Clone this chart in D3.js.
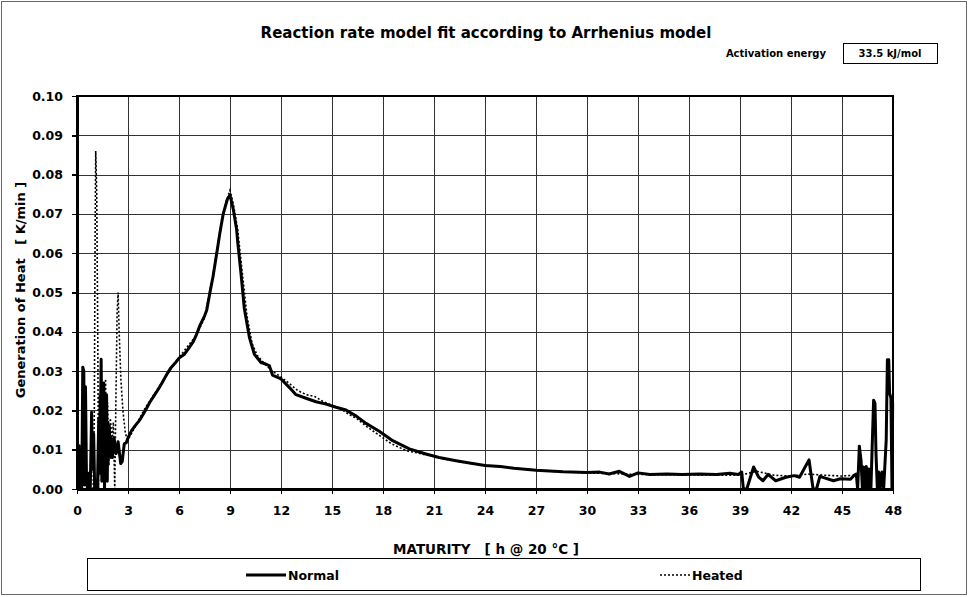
<!DOCTYPE html>
<html>
<head>
<meta charset="UTF-8">
<title>Reaction rate model fit according to Arrhenius model</title>
<script src="https://d3js.org/d3.v7.min.js"></script>
<style>
    body { margin: 0; background: #fff; }
    text { font-family: "DejaVu Sans", sans-serif; font-weight: bold; fill: #000; }
    .grid line { stroke: #333; stroke-width: 1; shape-rendering: crispEdges; }
    .grid path { display: none; }
    .axis path, .axis line { stroke: #000; shape-rendering: crispEdges; }
    .axis path { stroke-width: 2; }
    .axis line { stroke-width: 1.5; }
</style>
</head>
<body>
<script>
    // tick values
    var xTicks = [0, 3, 6, 9, 12, 15, 18, 21, 24, 27, 30, 33, 36, 39, 42, 45, 48];
    var yTicks = [0, 0.01, 0.02, 0.03, 0.04, 0.05, 0.06, 0.07, 0.08, 0.09, 0.10];
    var seriesNames = ["Normal", "Heated"];
    var activationEnergy = "33.5 kJ/mol";

    // [maturity h, heat K/min]
    var normal = [
        [0, 0.011], [0.12, 0.011], [0.17, 0], [0.28, 0], [0.34, 0.031], [0.4, 0.030], [0.44, 0.001],
        [0.5, 0.026], [0.56, 0.002], [0.62, 0], [0.7, 0.004], [0.78, 0], [0.86, 0.0195], [0.92, 0.005],
        [0.98, 0.014], [1.04, 0], [1.12, 0.002], [1.2, 0], [1.28, 0.018], [1.34, 0.004], [1.42, 0.033],
        [1.46, 0.002], [1.5, 0.026], [1.54, 0.008], [1.58, 0.027], [1.62, 0], [1.66, 0.021], [1.7, 0.01],
        [1.74, 0.024], [1.78, 0.002], [1.82, 0.017], [1.86, 0.009], [1.9, 0.016], [1.95, 0.008],
        [2.0, 0.013], [2.08, 0.008], [2.18, 0.013], [2.3, 0.009], [2.42, 0.012], [2.57, 0.0065],
        [2.66, 0.007], [2.78, 0.0115], [2.9, 0.0118], [3.0, 0.013], [3.2, 0.0148], [3.4, 0.016],
        [3.7, 0.0176], [4.0, 0.0198], [4.3, 0.0222], [4.5, 0.0235], [4.8, 0.0255], [5.0, 0.027],
        [5.3, 0.0293], [5.5, 0.0307], [5.8, 0.0322], [6.0, 0.0333], [6.3, 0.0342], [6.6, 0.036],
        [6.84, 0.0375], [7.0, 0.039], [7.24, 0.0417], [7.5, 0.044], [7.63, 0.0455], [7.82, 0.05],
        [8.0, 0.054], [8.22, 0.060], [8.4, 0.065], [8.6, 0.070], [8.85, 0.0738], [9.0, 0.0748],
        [9.2, 0.071], [9.39, 0.066], [9.45, 0.063], [9.65, 0.0547], [9.84, 0.046], [10.14, 0.0386],
        [10.43, 0.0343], [10.82, 0.0322], [11.1, 0.0318], [11.31, 0.0314], [11.5, 0.029], [12.0, 0.028],
        [12.5, 0.0258], [12.88, 0.024], [13.47, 0.0231], [14.06, 0.0222], [14.65, 0.0216], [15.24, 0.0208],
        [15.82, 0.0201], [16.41, 0.0186], [17.0, 0.0167], [17.78, 0.0147], [18.57, 0.0123], [19.55, 0.0102],
        [20.53, 0.0089], [21.3, 0.008], [22.3, 0.0072], [23.27, 0.0065], [24.0, 0.006], [24.9, 0.0057],
        [25.7, 0.0053], [27.0, 0.0048], [28.6, 0.0044], [30.0, 0.0042], [30.75, 0.0043], [31.3, 0.0038],
        [31.9, 0.0045], [32.5, 0.0032], [33.0, 0.0041], [33.7, 0.0037], [34.7, 0.0038], [35.6, 0.0037],
        [36.6, 0.0038], [37.6, 0.0037], [38.4, 0.004], [38.9, 0.0037], [39.1, 0.0043], [39.2, 0],
        [39.4, 0], [39.8, 0.0056], [40.1, 0.003], [40.35, 0.0021], [40.65, 0.0037], [41.1, 0.0021],
        [41.7, 0.003], [42.2, 0.0034], [42.5, 0.003], [43.06, 0.0074], [43.3, 0], [43.5, 0],
        [43.7, 0.0032], [44.5, 0.0021], [44.9, 0.0026], [45.5, 0.0025], [45.69, 0.0034], [45.84, 0.0038],
        [45.92, 0], [46.02, 0.0109], [46.12, 0.0073], [46.2, 0], [46.27, 0.0056], [46.35, 0],
        [46.43, 0.0057], [46.51, 0], [46.59, 0.0051], [46.7, 0], [46.78, 0.0115], [46.86, 0.0226],
        [46.94, 0.0218], [47.0, 0.009], [47.08, 0], [47.16, 0.0043], [47.24, 0], [47.35, 0.0043],
        [47.45, 0], [47.6, 0.0124], [47.67, 0.0329], [47.75, 0.0329], [47.8, 0.0244], [47.88, 0.0231],
        [47.94, 0], [47.98, 0.022]
    ];

    var heated = [
        [0.95, 0], [1.02, 0.02], [1.06, 0.06], [1.1, 0.086], [1.16, 0.075], [1.22, 0.04], [1.27, 0],
        [1.32, 0.024], [1.38, 0.01], [1.44, 0.03], [1.5, 0.012], [1.56, 0.026], [1.62, 0.008],
        [1.68, 0.028], [1.74, 0.01], [1.8, 0.022], [1.88, 0.006], [1.96, 0.018], [2.06, 0.012],
        [2.14, 0.017], [2.22, 0], [2.28, 0.02], [2.36, 0.045], [2.42, 0.05], [2.48, 0.04], [2.58, 0.028],
        [2.7, 0.02], [2.85, 0.014], [3.0, 0.0125], [3.5, 0.0165], [4.0, 0.0205], [5.0, 0.0272],
        [6.0, 0.0335], [7.0, 0.039], [7.5, 0.0435], [8.0, 0.0545], [8.5, 0.068], [8.8, 0.0735],
        [9.0, 0.076], [9.2, 0.0725], [9.45, 0.066], [9.7, 0.056], [10.0, 0.044], [10.3, 0.037],
        [10.6, 0.034], [11.0, 0.032], [11.5, 0.030], [12.0, 0.0285], [12.5, 0.0268], [13.0, 0.025],
        [13.5, 0.024], [14.0, 0.0235], [14.5, 0.0222], [15.0, 0.0213], [15.5, 0.0204], [16.0, 0.019],
        [16.5, 0.0178], [17.0, 0.016], [17.5, 0.0145], [18.0, 0.013], [18.5, 0.0115], [19.0, 0.0105],
        [19.5, 0.0096], [20, 0.0092], [21, 0.0082], [22, 0.0073], [23, 0.0066], [24, 0.006],
        [26, 0.0052], [28, 0.0045], [30, 0.0041], [33, 0.0037], [36, 0.0036], [39, 0.0035],
        [40, 0.0045], [41, 0.0035], [42, 0.0033], [43, 0.0038], [44, 0.0035], [45, 0.0033], [45.8, 0.0035]
    ];

    var width = 969;
    var height = 597;
    var mLeft = 77, mTop = 96, plotW = 816, plotH = 393;

    var svg = d3.select("body").append("svg")
        .attr("width", width)
        .attr("height", height);

    // outer frame
    svg.append("rect")
        .attr("x", 1.5).attr("y", 1.5)
        .attr("width", width - 4).attr("height", height - 4)
        .attr("fill", "none").attr("stroke", "#666").attr("stroke-width", 1);

    var x = d3.scaleLinear().domain([0, 48]).range([0, plotW]);
    var y = d3.scaleLinear().domain([0, 0.10]).range([plotH, 0]);

    var g = svg.append("g").attr("transform", "translate(" + mLeft + "," + mTop + ")");

    // grid lines
    g.append("g").attr("class", "grid")
        .attr("transform", "translate(0," + plotH + ")")
        .call(d3.axisBottom(x).tickValues(xTicks).tickSize(-plotH).tickFormat(""));
    g.append("g").attr("class", "grid")
        .call(d3.axisLeft(y).tickValues(yTicks).tickSize(-plotW).tickFormat(""));

    // plot frame
    g.append("rect")
        .attr("width", plotW).attr("height", plotH)
        .attr("fill", "none").attr("stroke", "#000").attr("stroke-width", 2);

    var xAxis = g.append("g").attr("class", "axis")
        .attr("transform", "translate(0," + plotH + ")")
        .call(d3.axisBottom(x).tickValues(xTicks).tickSize(5).tickSizeOuter(0).tickPadding(12)
            .tickFormat(d3.format("d")));
    xAxis.selectAll("text").style("font-size", "12.5px");

    var yAxis = g.append("g").attr("class", "axis")
        .call(d3.axisLeft(y).tickValues(yTicks).tickSize(5).tickSizeOuter(0).tickPadding(9)
            .tickFormat(d3.format(".2f")));
    yAxis.selectAll("text").style("font-size", "12.5px");

    var line = d3.line()
        .x(function (d) { return x(d[0]); })
        .y(function (d) { return y(d[1]); });

    g.append("path").datum(heated)
        .attr("d", line)
        .attr("fill", "none").attr("stroke", "#000")
        .attr("stroke-width", 1.6).attr("stroke-dasharray", "2,2");

    g.append("path").datum(normal)
        .attr("d", line)
        .attr("fill", "none").attr("stroke", "#000")
        .attr("stroke-width", 3).attr("stroke-linejoin", "round");

    // titles
    svg.append("text")
        .attr("x", 486).attr("y", 38)
        .attr("text-anchor", "middle").style("font-size", "15px")
        .text("Reaction rate model fit according to Arrhenius model");

    svg.append("text")
        .attr("x", 826).attr("y", 57)
        .attr("text-anchor", "end").style("font-size", "10px")
        .text("Activation energy");
    svg.append("rect")
        .attr("x", 843.5).attr("y", 43.5).attr("width", 94).attr("height", 20)
        .attr("fill", "none").attr("stroke", "#000").attr("stroke-width", 1);
    svg.append("text")
        .attr("x", 890).attr("y", 57)
        .attr("text-anchor", "middle").style("font-size", "10px")
        .text(activationEnergy);

    svg.append("text")
        .attr("x", 486).attr("y", 554)
        .attr("text-anchor", "middle").style("font-size", "13.5px")
        .attr("xml:space", "preserve")
        .text("MATURITY   [ h @ 20 \u00B0C ]");

    svg.append("text")
        .attr("transform", "translate(25,290) rotate(-90)")
        .attr("text-anchor", "middle").style("font-size", "13px")
        .attr("xml:space", "preserve")
        .text("Generation of Heat   [ K/min ]");

    // legend
    svg.append("rect")
        .attr("x", 87.5).attr("y", 558.5).attr("width", 833).attr("height", 32)
        .attr("fill", "none").attr("stroke", "#000").attr("stroke-width", 1);

    var legendItems = [
        { name: seriesNames[0], x1: 246, x2: 286, dash: null, w: 3 },
        { name: seriesNames[1], x1: 660, x2: 690, dash: "2,2", w: 1.6 }
    ];
    legendItems.forEach(function (d) {
        svg.append("line")
            .attr("x1", d.x1).attr("x2", d.x2).attr("y1", 575).attr("y2", 575)
            .attr("stroke", "#000").attr("stroke-width", d.w)
            .attr("stroke-dasharray", d.dash);
        svg.append("text")
            .attr("x", d.x2 + 2).attr("y", 580)
            .style("font-size", "12.5px")
            .text(d.name);
    });
</script>
</body>
</html>
